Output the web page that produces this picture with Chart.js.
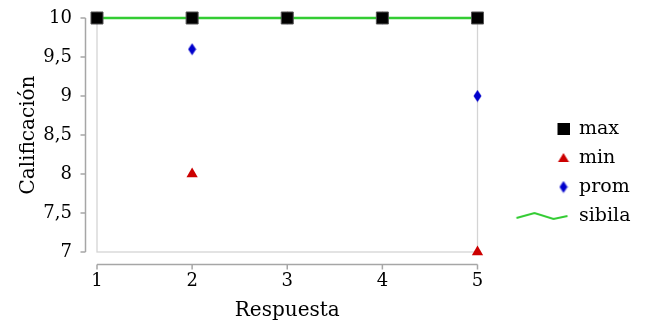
<!DOCTYPE html>
<html>
<head>
<meta charset="utf-8">
<script src="https://cdn.jsdelivr.net/npm/chart.js@4"></script>
<style>
  html, body { margin: 0; padding: 0; background: #fff; }
  #wrap { width: 646px; height: 327px; }
</style>
</head>
<body>
<div id="wrap"><canvas id="chart"></canvas></div>
<script>
const respuestas = [1, 2, 3, 4, 5];
const maxVals = [10, 10, 10, 10, 10];
const minVals = [10, 8, 10, 10, 7];
const promVals = [10, 9.6, 10, 10, 9];
const sibilaVals = [10, 10, 10, 10, 10];
const seriesNames = ['max', 'min', 'prom', 'sibila'];

const FONT = "'DejaVu Serif', serif";
const GREEN = '#33cc33';
const RED = '#cc0000';
const BLUE = '#0000cc';

function toPoints(vals) {
    return respuestas.map((x, i) => ({ x: x, y: vals[i] }));
}

function makeCanvas(w, h, draw) {
    const c = document.createElement('canvas');
    c.width = w;
    c.height = h;
    draw(c.getContext('2d'));
    return c;
}

// narrow diamond marker for "prom"
const diamond = makeCanvas(9, 13, g => {
    g.fillStyle = BLUE;
    g.beginPath();
    g.moveTo(4.5, 0.5);
    g.lineTo(8.5, 6.5);
    g.lineTo(4.5, 12.5);
    g.lineTo(0.5, 6.5);
    g.closePath();
    g.fill();
});

// legend glyphs, all the same width so the text lines up
const LW = 82, LH = 20, MX = 76;
const legMax = makeCanvas(LW, LH, g => {
    g.fillStyle = '#000';
    g.fillRect(MX - 6, 4, 12, 12);
});
const legMin = makeCanvas(LW, LH, g => {
    g.fillStyle = RED;
    g.beginPath();
    g.moveTo(MX, 5);
    g.lineTo(MX + 5.5, 14);
    g.lineTo(MX - 5.5, 14);
    g.closePath();
    g.fill();
});
const legProm = makeCanvas(LW, LH, g => {
    g.drawImage(diamond, MX - 4.5, 3.5);
});
const legSibila = makeCanvas(LW, LH, g => {
    g.strokeStyle = GREEN;
    g.lineWidth = 2;
    g.beginPath();
    g.moveTo(29, 12);
    g.lineTo(47, 7);
    g.lineTo(66, 13);
    g.lineTo(80, 10);
    g.stroke();
});
const legendGlyphs = [legMax, legMin, legProm, legSibila];

function seg(g, x1, y1, x2, y2) {
    g.beginPath();
    g.moveTo(x1, y1);
    g.lineTo(x2, y2);
    g.stroke();
}

// pgfplots-like frame plus detached axis lines
const axisLines = {
    id: 'axisLines',
    beforeDatasetsDraw(chart) {
        const a = chart.chartArea;
        const g = chart.ctx;
        g.save();
        g.strokeStyle = '#d4d4d4';
        g.lineWidth = 1.3;
        g.strokeRect(a.left, a.top, a.right - a.left, a.bottom - a.top);
        g.restore();
    },
    afterDraw(chart) {
        const a = chart.chartArea;
        const g = chart.ctx;
        const xs = chart.scales.x;
        const ys = chart.scales.y;
        g.save();
        g.strokeStyle = '#a6a6a6';
        g.lineWidth = 1.5;
        const yx = Math.round(a.left - 12) + 0.5;
        seg(g, yx, a.top, yx, a.bottom);
        ys.ticks.forEach(t => {
            const p = ys.getPixelForValue(t.value);
            seg(g, yx, p, yx - 5, p);
        });
        const xy = Math.round(a.bottom + 12) + 0.5;
        seg(g, a.left, xy, a.right, xy);
        xs.ticks.forEach(t => {
            const p = xs.getPixelForValue(t.value);
            seg(g, p, xy, p, xy + 5);
        });
        g.restore();
    }
};

new Chart(document.getElementById('chart'), {
    type: 'scatter',
    data: {
        datasets: [
            {
                label: seriesNames[0],
                data: toPoints(maxVals),
                pointStyle: 'rect',
                pointRadius: 8.5,
                backgroundColor: '#000',
                borderColor: '#555',
                borderWidth: 1,
                clip: false
            },
            {
                label: seriesNames[1],
                data: toPoints(minVals),
                pointStyle: 'triangle',
                pointRadius: 6.5,
                backgroundColor: RED,
                borderColor: RED,
                borderWidth: 0,
                clip: false
            },
            {
                label: seriesNames[2],
                data: toPoints(promVals),
                pointStyle: diamond,
                backgroundColor: BLUE,
                borderColor: BLUE,
                clip: false
            },
            {
                label: seriesNames[3],
                data: toPoints(sibilaVals),
                showLine: true,
                pointRadius: 0,
                borderColor: GREEN,
                backgroundColor: GREEN,
                borderWidth: 2.5,
                clip: false
            }
        ]
    },
    options: {
        responsive: true,
        maintainAspectRatio: false,
        animation: false,
        layout: {
            autoPadding: false,
            padding: { left: 5, right: 11, top: 18, bottom: 0 }
        },
        plugins: {
            tooltip: { enabled: false },
            legend: {
                position: 'right',
                align: 'center',
                labels: {
                    usePointStyle: true,
                    pointStyleWidth: LW,
                    padding: 10,
                    color: '#000',
                    font: { family: FONT, size: 19 },
                    generateLabels(chart) {
                        return chart.data.datasets.map((ds, i) => ({
                            text: ds.label,
                            pointStyle: legendGlyphs[i],
                            fillStyle: 'transparent',
                            strokeStyle: 'transparent',
                            lineWidth: 0,
                            hidden: false,
                            datasetIndex: i
                        }));
                    }
                }
            }
        },
        scales: {
            x: {
                type: 'linear',
                min: 1,
                max: 5,
                grid: { display: false, drawTicks: false },
                border: { display: false },
                afterFit(scale) {
                    scale.height = 75;
                    scale.paddingLeft = 0;
                    scale.paddingRight = 0;
                },
                ticks: {
                    stepSize: 1,
                    padding: 19,
                    color: '#000',
                    font: { family: FONT, size: 18 }
                },
                title: {
                    display: true,
                    text: 'Respuesta',
                    color: '#000',
                    font: { family: FONT, size: 20 },
                    padding: { top: 0, bottom: 4 }
                }
            },
            y: {
                type: 'linear',
                min: 7,
                max: 10,
                grid: { display: false, drawTicks: false },
                border: { display: false },
                afterFit(scale) {
                    scale.width = 92;
                    scale.paddingTop = 0;
                    scale.paddingBottom = 0;
                },
                ticks: {
                    stepSize: 0.5,
                    padding: 25,
                    color: '#000',
                    font: { family: FONT, size: 18 },
                    callback: v => String(v).replace('.', ',')
                },
                title: {
                    display: true,
                    text: 'Calificación',
                    color: '#000',
                    font: { family: FONT, size: 20 },
                    padding: { top: 12, bottom: 0 }
                }
            }
        }
    },
    plugins: [axisLines]
});
</script>
</body>
</html>
